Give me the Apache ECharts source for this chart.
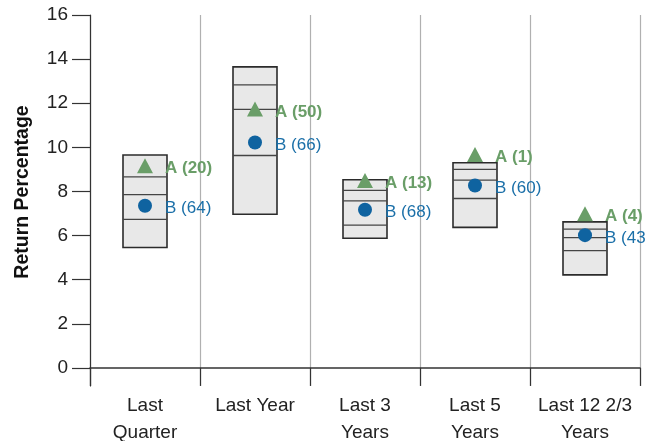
<!DOCTYPE html>
<html>
<head>
<meta charset="utf-8">
<script src="https://cdn.jsdelivr.net/npm/echarts@6/dist/echarts.min.js"></script>
<style>
html,body{margin:0;padding:0;background:#fff;}
#chart{width:646px;height:441px;}
</style>
</head>
<body>
<div id="chart"></div>
<script>
const categories = ['Last\nQuarter', 'Last Year', 'Last 3\nYears', 'Last 5\nYears', 'Last 12 2/3\nYears'];
const p5  = [9.65, 13.65, 8.53, 9.30, 6.62];
const p25 = [8.66, 12.83, 8.05, 9.00, 6.29];
const p50 = [7.86, 11.72, 7.57, 8.51, 5.91];
const p75 = [6.73, 9.63, 6.47, 7.68, 5.32];
const p95 = [5.46, 6.97, 5.88, 6.37, 4.22];
const aValues = [9.17, 11.74, 8.50, 9.68, 6.99];
const aRanks = [20, 50, 13, 1, 4];
const bValues = [7.35, 10.22, 7.17, 8.27, 6.02];
const bRanks = [64, 66, 68, 60, 43];
const yTicks = [0, 2, 4, 6, 8, 10, 12, 14, 16];

const FONT = '"Liberation Sans", Arial, sans-serif';
const chart = echarts.init(document.getElementById('chart'), null, {renderer: 'canvas'});

const boxData = categories.map((c, i) => [i, p5[i], p25[i], p50[i], p75[i], p95[i]]);

const option = {
  animation: false,
  grid: {left: 90, right: 6, top: 15, bottom: 55, containLabel: false, outerBoundsMode: 'none'},
  graphic: [{
    type: 'text',
    x: 23, y: 192,
    rotation: Math.PI / 2,
    style: {
      text: 'Return Percentage',
      font: 'bold 19.5px ' + FONT,
      fill: '#111',
      align: 'center',
      verticalAlign: 'middle'
    }
  }],
  xAxis: {
    type: 'category',
    data: categories,
    boundaryGap: true,
    axisLine: {show: true, onZero: true, lineStyle: {color: '#333', width: 1.5}},
    axisTick: {show: true, interval: 0, length: 18, lineStyle: {color: '#333', width: 1.2}},
    axisLabel: {interval: 0, margin: 6, fontSize: 19, lineHeight: 27, color: '#222', fontFamily: FONT},
    splitLine: {show: true, interval: 0, lineStyle: {color: '#b0b0b0', width: 1.2}}
  },
  yAxis: {
    type: 'value',
    min: -0.82,
    max: 16,
    axisLine: {show: true, lineStyle: {color: '#333', width: 1.2}},
    axisTick: {show: true, length: 18, customValues: yTicks, lineStyle: {color: '#333', width: 1.2}},
    axisLabel: {customValues: yTicks, margin: 22, fontSize: 19, color: '#222', fontFamily: FONT},
    splitLine: {show: false}
  },
  series: [
    {
      type: 'custom',
      z: 2,
      data: boxData,
      encode: {x: 0, y: [1, 2, 3, 4, 5]},
      renderItem: function (params, api) {
        const x = api.value(0);
        const w = api.size([1, 0])[0] * 0.4;
        const cx = api.coord([x, 0])[0];
        const yT = api.coord([x, api.value(1)])[1];
        const y1 = api.coord([x, api.value(2)])[1];
        const y2 = api.coord([x, api.value(3)])[1];
        const y3 = api.coord([x, api.value(4)])[1];
        const yB = api.coord([x, api.value(5)])[1];
        const x0 = cx - w / 2, x1 = cx + w / 2;
        const line = (y) => ({
          type: 'line',
          shape: {x1: x0, y1: y, x2: x1, y2: y},
          style: {stroke: '#444', lineWidth: 1.3}
        });
        return {
          type: 'group',
          children: [
            {type: 'rect', shape: {x: x0, y: yT, width: w, height: yB - yT},
              style: {fill: '#e8e8e8', stroke: '#2b2b2b', lineWidth: 1.6}},
            line(y1), line(y2), line(y3)
          ]
        };
      }
    },
    {
      type: 'scatter',
      z: 5,
      symbol: 'triangle',
      symbolSize: [16, 15],
      itemStyle: {color: '#6a9e68', opacity: 1},
      data: aValues.map((v, i) => [i, v]),
      label: {
        show: true, position: 'right', distance: 12, offset: [0, 3],
        formatter: (p) => 'A (' + aRanks[p.dataIndex] + ')',
        color: '#6a9e68', fontWeight: 'bold', fontSize: 17, fontFamily: FONT
      }
    },
    {
      type: 'scatter',
      z: 5,
      symbol: 'circle',
      symbolSize: 14,
      itemStyle: {color: '#0f63a0', opacity: 1},
      data: bValues.map((v, i) => [i, v]),
      label: {
        show: true, position: 'right', distance: 13, offset: [0, 3],
        formatter: (p) => 'B (' + bRanks[p.dataIndex] + ')',
        color: '#1a6fa8', fontSize: 17, fontFamily: FONT
      }
    }
  ]
};
chart.setOption(option);
</script>
</body>
</html>
